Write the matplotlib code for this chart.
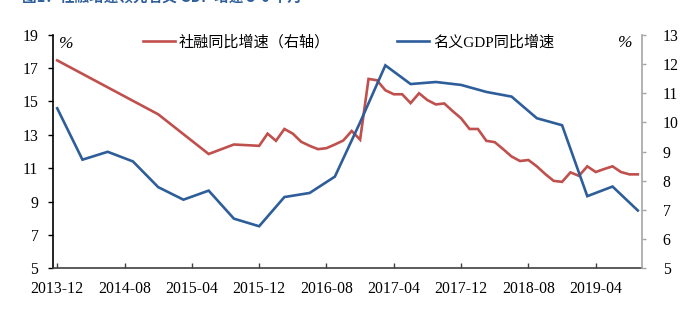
import numpy as np
import matplotlib
matplotlib.use("Agg")
import matplotlib.pyplot as plt
from matplotlib.ticker import FixedLocator

plt.rcParams['font.family'] = ['Liberation Serif', 'Noto Sans CJK SC', 'DejaVu Sans']

# ---------------- data ----------------
start_year, start_month = 2013, 12
n_months = 70  # 2013-12 .. 2019-09

tick_labels = ['2013-12', '2014-08', '2015-04', '2015-12', '2016-08',
               '2017-04', '2017-12', '2018-08', '2019-04']

sf_dates = (['2013-12', '2014-12', '2015-06', '2015-09', '2015-12'] +
            [f'{2016 + (i // 12)}-{(i % 12) + 1:02d}' for i in range(45)])
sf_growth = [17.46, 14.23, 11.85, 12.42, 12.34,
             13.07, 12.64, 13.35, 13.07, 12.58, 12.34, 12.14, 12.20, 12.42, 12.66, 13.23, 12.71,
             16.35, 16.27, 15.67, 15.43, 15.43, 14.90, 15.49, 15.08, 14.82, 14.88, 14.42, 13.99,
             13.35, 13.35, 12.64, 12.56, 12.14, 11.70, 11.43, 11.49, 11.11, 10.65, 10.24, 10.18,
             10.75, 10.54, 11.11, 10.77, 10.95, 11.11, 10.77, 10.63, 10.63]

gdp_dates = ['2013-12', '2014-03', '2014-06', '2014-09', '2014-12', '2015-03', '2015-06',
             '2015-09', '2015-12', '2016-03', '2016-06', '2016-09', '2016-12', '2017-03',
             '2017-06', '2017-09', '2017-12', '2018-03', '2018-06', '2018-09', '2018-12',
             '2019-03', '2019-06', '2019-09']
gdp_growth = [10.48, 8.72, 8.99, 8.66, 7.78, 7.35, 7.66, 6.70, 6.44, 7.44, 7.58, 8.14,
              10.00, 11.95, 11.31, 11.38, 11.28, 11.04, 10.88, 10.14, 9.90, 7.47, 7.80, 6.98]

sf_label = '社融同比增速（右轴）'
gdp_label = '名义GDP同比增速'
title = '图1：社融增速领先名义 GDP 增速 3-6 个月'


def month_index(s):
    y, m = s.split('-')
    return (int(y) - start_year) * 12 + int(m) - start_month


red = '#C0504D'
blue = '#2E5E9A'

fig = plt.figure(figsize=(6.87, 3.25), dpi=100)
ax = fig.add_axes([53 / 687, 1 - 268.3 / 325, (642 - 53) / 687, (268.3 - 34.7) / 325])
ax2 = ax.twinx()

sf_x = [month_index(d) for d in sf_dates]
gdp_x = [month_index(d) for d in gdp_dates]

l1, = ax.plot(sf_x, sf_growth, color=red, lw=1.9, label=sf_label, solid_joinstyle='miter')
l2, = ax2.plot(gdp_x, gdp_growth, color=blue, lw=1.9, label=gdp_label, solid_joinstyle='miter')

ax.set_xlim(-0.5, n_months - 0.5)
ax.set_ylim(5, 19)
ax2.set_ylim(5, 13)
ax.set_yticks(np.arange(5, 20, 2))
ax2.set_yticks(np.arange(5, 14, 1))
ax.xaxis.set_major_locator(FixedLocator([month_index(t) for t in tick_labels]))
ax.set_xticklabels(tick_labels)

fs = 11.3
ax.tick_params(axis='y', direction='out', length=3.5, width=1, labelsize=fs, pad=7, color='black')
ax.tick_params(axis='x', direction='in', length=3.5, width=1, labelsize=fs, pad=9.5, color='#404040')
ax2.tick_params(axis='y', direction='out', length=3, width=1, labelsize=fs, pad=12, color='#A6A6A6')

for a in (ax, ax2):
    a.spines['top'].set_visible(False)
ax.spines['left'].set_color('black')
ax.spines['left'].set_linewidth(1.2)
ax.spines['bottom'].set_color('#404040')
ax.spines['bottom'].set_linewidth(1.2)
ax2.spines['right'].set_color('#A6A6A6')
ax2.spines['right'].set_linewidth(1.2)
ax2.spines['left'].set_visible(False)
ax2.spines['bottom'].set_visible(False)
ax.spines['right'].set_visible(False)

ax.text(59 / 687, 1 - 44 / 325, '%', transform=fig.transFigure, fontsize=12.5,
        ha='left', va='center', style='italic')
ax.text(618 / 687, 1 - 43 / 325, '%', transform=fig.transFigure, fontsize=12.5,
        ha='left', va='center', style='italic')

fig.legend(handles=[l1, l2], loc='center left', bbox_to_anchor=(143 / 687, 1 - 42 / 325),
           ncol=2, frameon=False, fontsize=10.9, handlelength=2.1, handletextpad=0.28,
           columnspacing=4.4, borderpad=0, borderaxespad=0)

fig.text(22 / 687, 1 - 3 / 325, title, fontsize=10.5, fontweight='bold', color='#2E5E9A',
         ha='left', va='baseline', family=['Noto Sans CJK SC', 'DejaVu Sans'])

fig.savefig('out.png', dpi=100)
